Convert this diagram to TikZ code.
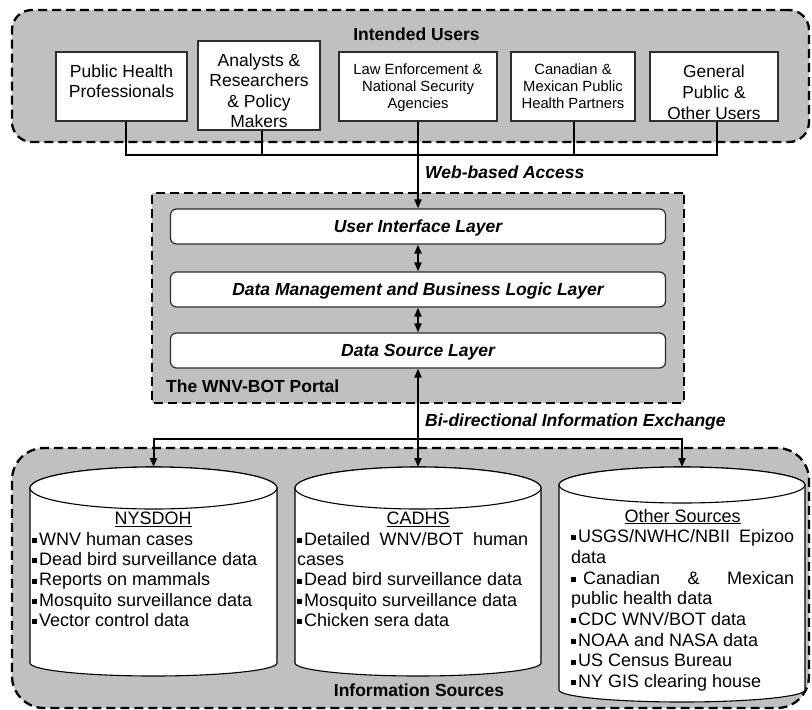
\documentclass[tikz,border=0pt]{standalone}
\usepackage{fontspec}
\setmainfont{Liberation Sans}
\usetikzlibrary{arrows.meta}
\definecolor{grp}{RGB}{192,192,192}
\definecolor{edgec}{RGB}{45,45,45}
\newcommand\bul{\rule[0.13em]{0.28em}{0.28em}\hspace{0.1em}}
\begin{document}
\begin{tikzpicture}[x=1pt,y=-1pt,>={Triangle[length=9pt,width=7pt]},
  grpbox/.style={draw=black, fill=grp, line width=2.3pt, dash pattern=on 9pt off 5pt, inner sep=0},
  ubox/.style={draw=edgec, fill=white, line width=1.2pt, inner sep=0},
  layer/.style={draw=edgec, fill=white, line width=1.2pt, rounded corners=6pt, minimum width=495pt, minimum height=35pt,
     font=\fontsize{17.5}{20}\selectfont\bfseries\itshape, text height=12.6pt, text depth=0pt, inner sep=0},
  conn/.style={line width=2pt},
  utxt/.style={inner sep=0, align=center, anchor=north},
  lbl/.style={inner sep=0, font=\fontsize{17.5}{20}\selectfont\bfseries},
  lbli/.style={inner sep=0, font=\fontsize{17.5}{20}\selectfont\bfseries\itshape},
  ctxt/.style={inner sep=0, align=left, anchor=north west},
  cylb/.style={draw=black, fill=white, line width=1.1pt}]
\useasboundingbox (0,0) rectangle (812,710);

% groups
\node[grpbox, rounded corners=20pt, minimum width=797pt, minimum height=132pt] (users) at (410.5,76) {};
\node[grpbox, rounded corners=1pt, minimum width=532pt, minimum height=210pt] (portal) at (418,298) {};
\node[grpbox, rounded corners=32pt, minimum width=797pt, minimum height=260pt] (sources) at (410.5,578) {};

% user boxes
\node[ubox, minimum width=131pt, minimum height=69pt] (b1) at (121.5,86.5) {};
\node[ubox, minimum width=122pt, minimum height=89pt] (b2) at (259,85.5) {};
\node[ubox, minimum width=158pt, minimum height=69pt] (b3) at (418,86.5) {};
\node[ubox, minimum width=124pt, minimum height=69pt] (b4) at (573,86.5) {};
\node[ubox, minimum width=128pt, minimum height=69pt] (b5) at (714,86.5) {};

\node[utxt, font=\fontsize{17.5}{20}\selectfont] (t1) at (121.5,64.4) {Public Health\\Professionals};
\node[utxt, font=\fontsize{17.5}{20.5}\selectfont] (t2) at (259,53.3) {Analysts \&\\Researchers\\\& Policy\\Makers};
\node[utxt, font=\fontsize{14.8}{17}\selectfont] (t3) at (418,63.4) {Law Enforcement \&\\National Security\\Agencies};
\node[utxt, font=\fontsize{14.8}{17}\selectfont] (t4) at (573,63.4) {Canadian \&\\Mexican Public\\Health Partners};
\node[utxt, font=\fontsize{17.3}{21}\selectfont] (t5) at (714,64.5) {General\\Public \&\\Other Users};

\node[lbl, anchor=base] (iu) at (416.5,40) {Intended Users};

% layers
\node[layer] (ui) at (418,226.5) {User Interface Layer};
\node[layer] (dm) at (418,289.5) {Data Management and Business Logic Layer};
\node[layer] (ds) at (418,350.5) {Data Source Layer};
\node[lbl, anchor=base west] (pl) at (166,392) {The WNV-BOT Portal};

% connectors top
\coordinate (hub1) at (418,155);
\draw[conn] ([xshift=4.5pt]b1.south) |- (hub1) -| ([xshift=3pt]b5.south);
\draw[conn] ([xshift=3pt]b2.south) -- ([xshift=3pt]b2.south |- hub1);
\draw[conn] ([xshift=1pt]b4.south) -- ([xshift=1pt]b4.south |- hub1);
\draw[conn,->] (b3.south) -- (ui.north);
\node[lbli, anchor=base west] (wa) at (425,178) {Web-based Access};

\draw[conn,<->] (ui.south) -- (dm.north);
\draw[conn,<->] (dm.south) -- (ds.north);

% cylinders
\draw[cylb] (30,488) -- (30,663) arc[start angle=180,end angle=0,x radius=123.5,y radius=13]
  -- (277,488) arc[start angle=0,end angle=-180,x radius=123.5,y radius=21] -- cycle;
\draw[cylb] (153.5,488) ellipse[x radius=123.5, y radius=21];
\draw[cylb] (295,488) -- (295,663) arc[start angle=180,end angle=0,x radius=123,y radius=13]
  -- (541,488) arc[start angle=0,end angle=-180,x radius=123,y radius=21] -- cycle;
\draw[cylb] (418,488) ellipse[x radius=123, y radius=21];
\draw[cylb] (559,485) -- (559,690) arc[start angle=180,end angle=0,x radius=123,y radius=12]
  -- (805,485) arc[start angle=0,end angle=-180,x radius=123,y radius=18] -- cycle;
\draw[cylb] (682,485) ellipse[x radius=123, y radius=18];
\coordinate (c1top) at (153.5,467);
\coordinate (c2top) at (418,467);
\coordinate (c3top) at (682,467);

% connectors bottom
\coordinate (hub2) at (418,439);
\draw[conn,->] (hub2) -- (ds.south);
\draw[conn,->] (hub2) -| (c1top);
\draw[conn,->] (hub2) -| (c3top);
\draw[conn,->] (hub2) -- (c2top);
\node[lbli, anchor=base west] (bx) at (425,426) {Bi-directional Information Exchange};

% cylinder texts
\node[ctxt, font=\fontsize{18}{20.4}\selectfont] (n1) at (32,512) {\hbox to 242pt{\hfil\underline{NYSDOH}\hfil}\\
 \bul WNV human cases\\ \bul Dead bird surveillance data\\ \bul Reports on mammals\\
 \bul Mosquito surveillance data\\ \bul Vector control data};
\node[ctxt, font=\fontsize{18}{20.4}\selectfont] (n2) at (297,512) {\hbox to 242pt{\hfil\underline{CADHS}\hfil}\\
 \hbox to 231pt{\bul Detailed\hfill WNV/BOT\hfill human}\\ cases\\ \bul Dead bird surveillance data\\
 \bul Mosquito surveillance data\\ \bul Chicken sera data};
\node[ctxt, font=\fontsize{18}{20.7}\selectfont] (n3) at (571,508.8) {\hbox to 223pt{\hfil\underline{Other Sources}\hfil}\\
 \hbox to 223pt{\bul USGS/NWHC/NBII\hfill Epizoo}\\ data\\
 \hbox to 223pt{\bul\ Canadian\hfill\&\hfill Mexican}\\ public health data\\
 \bul CDC WNV/BOT data\\ \bul NOAA and NASA data\\ \bul US Census Bureau\\ \bul NY GIS clearing house};

\node[lbl, anchor=base] (is) at (419,696) {Information Sources};
\end{tikzpicture}
\end{document}
